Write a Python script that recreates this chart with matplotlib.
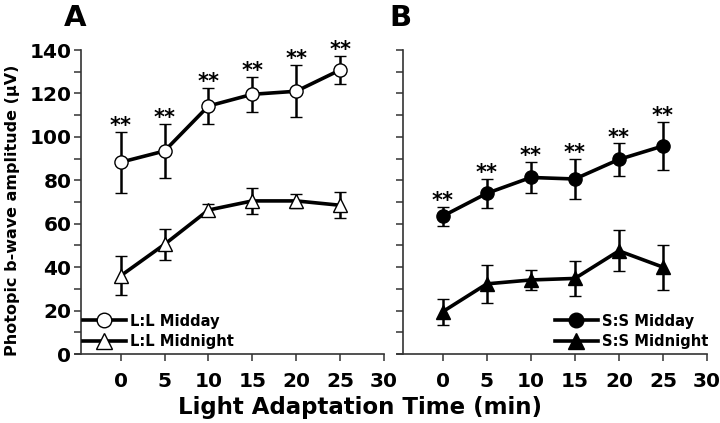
import numpy as np
import matplotlib
matplotlib.use("Agg")
import matplotlib.pyplot as plt
from matplotlib.lines import Line2D

plt.rcParams['font.family'] = ['DejaVu Sans']
plt.rcParams['font.weight'] = 'bold'

# light adaptation time (min)
times = [0, 5, 10, 15, 20, 25]

# panel A, L:L
ll_midday = [88.3, 93.5, 114.2, 119.6, 121.0, 130.8]
ll_midday_err = [14.0, 12.5, 8.3, 8.0, 12.0, 6.3]
ll_midnight = [36.0, 50.5, 66.3, 70.5, 70.5, 68.5]
ll_midnight_err = [9.0, 7.0, 2.8, 6.0, 3.2, 6.0]

# panel B, S:S
ss_midday = [63.5, 74.0, 81.3, 80.6, 89.6, 95.8]
ss_midday_err = [4.4, 6.8, 7.2, 9.4, 7.4, 11.0]
ss_midnight = [19.5, 32.3, 34.1, 34.8, 47.5, 40.0]
ss_midnight_err = [6.0, 8.7, 4.6, 8.0, 9.5, 10.4]

xticks = [0, 5, 10, 15, 20, 25, 30]
yticks = [0, 20, 40, 60, 80, 100, 120, 140]

fig = plt.figure(figsize=(7.2, 4.23), dpi=100)
axA = fig.add_axes([75 / 720, 1 - 354 / 423, 309 / 720, 304 / 423])
axB = fig.add_axes([397 / 720, 1 - 354 / 423, 310 / 720, 304 / 423])


def msize(marker):
    return 10.5 if marker == '^' else 9.5


def draw_series(ax, y, err, marker, face):
    ax.errorbar(times, y, yerr=err, color='black', lw=2.6, marker=marker,
                markersize=msize(marker), markerfacecolor=face,
                markeredgecolor='black', markeredgewidth=1.0, ecolor='black',
                elinewidth=1.8, capsize=4, capthick=1.8,
                clip_on=False, zorder=3)


def stars(ax, y, err):
    for t, v, e in zip(times, y, err):
        ax.annotate('**', (t, v + e), xytext=(0, -3), textcoords='offset points',
                    ha='center', va='bottom', fontsize=15, fontweight='bold')


def legend(ax, face, labels, x):
    handles = [Line2D([], [], color='black', lw=2.6, marker=m,
                      markersize=msize(m) + 1, markerfacecolor=face,
                      markeredgecolor='black', markeredgewidth=1.0)
               for m in ['o', '^']]
    ax.legend(handles, labels, loc='lower left', bbox_to_anchor=(x, 0.015),
              frameon=False, fontsize=10.6, handlelength=2.9,
              handletextpad=0.3, labelspacing=0.4, borderpad=0,
              borderaxespad=0)


def style_axis(ax, labels=True):
    ax.set_xlim(-5.2, 30)
    ax.set_ylim(0, 140)
    for s in ['top', 'right']:
        ax.spines[s].set_visible(False)
    ax.spines['left'].set_position(('data', -4.5))
    for s in ['left', 'bottom']:
        ax.spines[s].set_color('#333333')
        ax.spines[s].set_linewidth(1.2)
    ax.set_xticks(xticks)
    ax.set_yticks(yticks)
    ax.set_yticks(np.arange(10, 140, 20), minor=True)
    ax.tick_params(axis='both', which='both', direction='out', length=5,
                   width=1.1, color='#333333', labelsize=14.5)
    ax.tick_params(axis='x', pad=8)
    ax.tick_params(axis='y', pad=2)
    if not labels:
        ax.set_yticklabels([])
    ax.patch.set_visible(False)


draw_series(axA, ll_midday, ll_midday_err, 'o', 'white')
draw_series(axA, ll_midnight, ll_midnight_err, '^', 'white')
stars(axA, ll_midday, ll_midday_err)
style_axis(axA)
legend(axA, 'white', ['L:L Midday', 'L:L Midnight'], 0.026)

draw_series(axB, ss_midday, ss_midday_err, 'o', 'black')
draw_series(axB, ss_midnight, ss_midnight_err, '^', 'black')
stars(axB, ss_midday, ss_midday_err)
style_axis(axB, labels=False)
legend(axB, 'black', ['S:S Midday', 'S:S Midnight'], 0.51)

fig.text(13 / 720, 0.503, 'Photopic b-wave amplitude (\u03bcV)', rotation=90,
         ha='center', va='center', fontsize=11.5, fontweight='bold')
fig.text(360 / 720, 1 - 407 / 423, 'Light Adaptation Time (min)',
         ha='center', va='center', fontsize=16.5, fontweight='bold')
fig.text(75 / 720, 1 - 18 / 423, 'A', ha='center', va='center',
         fontsize=21, fontweight='bold')
fig.text(400 / 720, 1 - 18 / 423, 'B', ha='center', va='center',
         fontsize=21, fontweight='bold')

fig.savefig('out.png', dpi=100)
